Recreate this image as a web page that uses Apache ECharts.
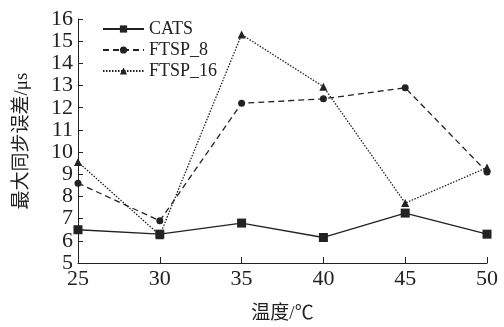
<!DOCTYPE html>
<html><head><meta charset="utf-8">
<script src="https://cdn.jsdelivr.net/npm/echarts@6/dist/echarts.min.js"></script>
<style>html,body{margin:0;padding:0;background:#fff}#c{width:504px;height:327px}</style>
</head><body><div id="c"></div>
<script>
const categories = [25, 30, 35, 40, 45, 50];
const cats = [6.5, 6.3, 6.8, 6.15, 7.25, 6.3];
const ftsp8 = [8.6, 6.9, 12.2, 12.4, 12.9, 9.1];
const ftsp16 = [9.55, 6.25, 15.3, 12.95, 7.7, 9.3];
const seriesNames = ['CATS', 'FTSP_8', 'FTSP_16'];
const xName = '温度/℃';
const yName = '最大同步误差/μs';

const FONT = '"Liberation Serif","Noto Sans CJK SC",serif';
const chart = echarts.init(document.getElementById('c'), null, {renderer: 'canvas'});
const black = '#222';
function mk(name, data, symbol, size, ltype) {
  return {
    name, type: 'line', data: categories.map((c, i) => [c, data[i]]),
    symbol, symbolSize: size, showSymbol: true,
    itemStyle: {color: black},
    lineStyle: {color: black, width: 1.3, type: ltype},
    animation: false
  };
}
chart.setOption({
  backgroundColor: '#fff',
  animation: false,
  grid: {left: 78, right: 17, top: 19, bottom: 64, containLabel: false, outerBoundsMode: 'none'},
  legend: {
    orient: 'vertical', left: 97, top: 15, itemWidth: 41, itemHeight: 9, itemGap: 3,
    textStyle: {fontFamily: FONT, fontSize: 18, color: black, lineHeight: 17},
    data: seriesNames
  },
  xAxis: {
    type: 'value', min: 25, max: 50, interval: 5,
    name: xName, nameLocation: 'middle', nameGap: 42,
    nameTextStyle: {fontFamily: FONT, fontSize: 19, color: black},
    axisLine: {lineStyle: {color: black, width: 1}},
    axisTick: {inside: true, length: 6, lineStyle: {color: black}},
    axisLabel: {fontFamily: FONT, fontSize: 22, color: black, margin: 5},
    splitLine: {show: false}
  },
  yAxis: {
    type: 'value', min: 5, max: 16, interval: 1,
    name: yName, nameLocation: 'middle', nameGap: 46, nameRotate: 90,
    nameTextStyle: {fontFamily: FONT, fontSize: 19, color: black},
    axisLine: {show: true, lineStyle: {color: black, width: 1}},
    axisTick: {show: true, inside: true, length: 5, lineStyle: {color: black}},
    axisLabel: {fontFamily: FONT, fontSize: 22, color: black, margin: 5},
    splitLine: {show: false}
  },
  series: [
    mk('CATS', cats, 'rect', 9, 'solid'),
    mk('FTSP_8', ftsp8, 'circle', 7, [6, 4]),
    mk('FTSP_16', ftsp16, 'triangle', 8, [1.5, 1.5])
  ]
});
</script></body></html>
